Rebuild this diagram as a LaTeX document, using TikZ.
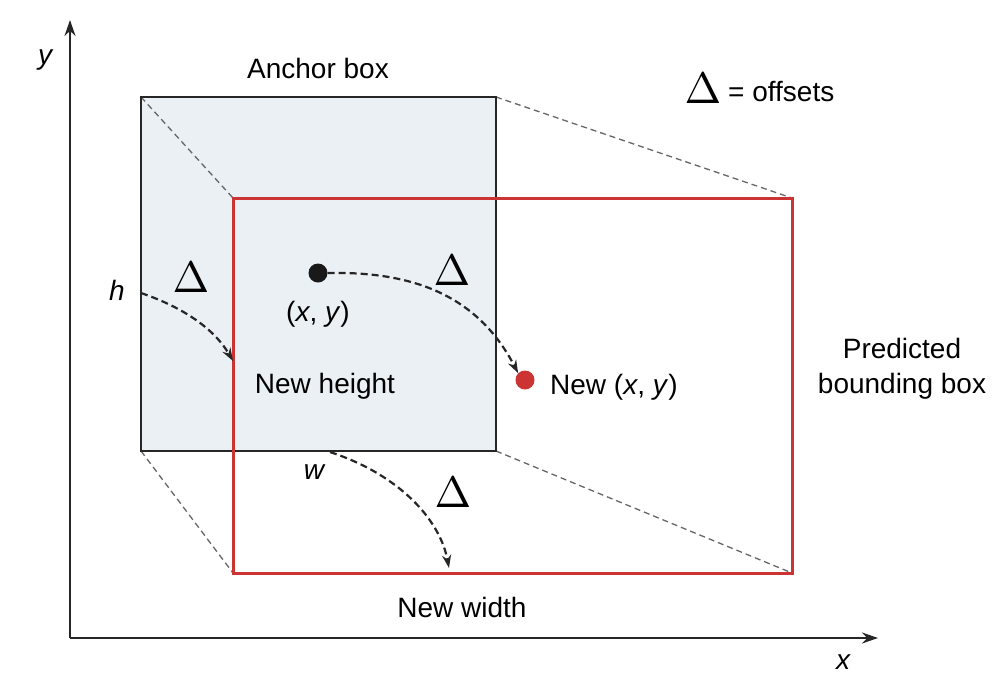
\documentclass[tikz,border=0pt]{standalone}
\usepackage{fontspec}
\usepackage{graphicx}
\setmainfont{Liberation Sans}
\usetikzlibrary{arrows.meta}
\definecolor{boxfill}{HTML}{EBF0F5}
\definecolor{predred}{HTML}{CC3333}
\newcommand{\bigdelta}{\scalebox{4.4}{$\Delta$}}
\tikzset{
  lbl/.style={font=\fontsize{28}{35}\selectfont, inner sep=0pt},
  ilbl/.style={font=\itshape\fontsize{28}{33}\selectfont, inner sep=0pt},
  dlt/.style={inner sep=0pt},
  guide/.style={draw=black!60, line width=1.3pt, dash pattern=on 6pt off 4pt},
  offarrow/.style={draw=black!85, line width=2.2pt, dash pattern=on 7pt off 4pt, -{Stealth[length=13pt,width=9pt]}},
  axis/.style={draw=black!85, line width=2.4pt, -{Stealth[length=16pt,width=11pt]}}
}
\begin{document}
\begin{tikzpicture}[x=1pt,y=-1pt]
\useasboundingbox (0,0) rectangle (1002,678);
% axes
\coordinate (O) at (70,638);
\coordinate (Ytip) at (70,20);
\coordinate (Xtip) at (878,638);
\draw[axis] (O) -- (Ytip);
\draw[axis] (O) -- (Xtip);
\node[ilbl] (ylab) at (45,60) {y};
\node[ilbl] (xlab) at (843,662) {x};
% anchor box
\coordinate (a1) at (141,97);
\coordinate (a2) at (496,97);
\coordinate (a3) at (496,451);
\coordinate (a4) at (141,451);
\fill[boxfill] (a1) rectangle (a3);
% predicted box corners
\coordinate (p1) at (233,198);
\coordinate (p2) at (792,198);
\coordinate (p3) at (792,573);
\coordinate (p4) at (233,573);
% guides
\draw[guide] (a1) -- (p1);
\draw[guide] (a2) -- (p2);
\draw[guide] (a4) -- (p4);
\draw[guide] (a3) -- (p3);
\draw[black!85, line width=2pt] (a1) rectangle (a3);
\draw[predred, line width=3pt] (p1) rectangle (p3);
% labels
\node[lbl] (anchor) at (318,68) {Anchor box};
\node[dlt] (dl0) at (703,88) {\bigdelta};
\node[lbl, anchor=west] (offs) at (728,92) {= offsets};
\node[dlt] (dl1) at (191,277) {\bigdelta};
\node[dlt] (dl2) at (452,270) {\bigdelta};
\node[dlt] (dl3) at (453,492) {\bigdelta};
\node[ilbl] (h) at (117,290) {h};
\node[ilbl] (w) at (314,472) {w};
% centers
\node[circle, fill=black!90, minimum size=19pt, inner sep=0pt] (c0) at (318,273) {};
\node[lbl] (c0lab) at (318,314) {(\textit{x}, \textit{y})};
\node[circle, fill=predred, minimum size=19pt, inner sep=0pt] (c1) at (525,380) {};
\node[lbl, anchor=west] (c1lab) at (550,387) {New (\textit{x}, \textit{y})};
\node[lbl] (nh) at (325,386) {New height};
\node[lbl] (nw) at (462,607) {New width};
\node[lbl, align=center] (pred) at (902,369) {Predicted\\bounding box};
% offset arrows
\coordinate (hs) at (141,293);
\coordinate (he) at (233,361);
\coordinate (ws) at (330,452);
\coordinate (we) at (449,568);
\draw[offarrow] (hs) .. controls (185,308) and (215,330) .. (he);
\draw[offarrow] (c0.east) .. controls (420,271) and (480,300) .. (c1.north west);
\draw[offarrow] (ws) .. controls (400,475) and (440,520) .. (we);
\end{tikzpicture}
\end{document}
